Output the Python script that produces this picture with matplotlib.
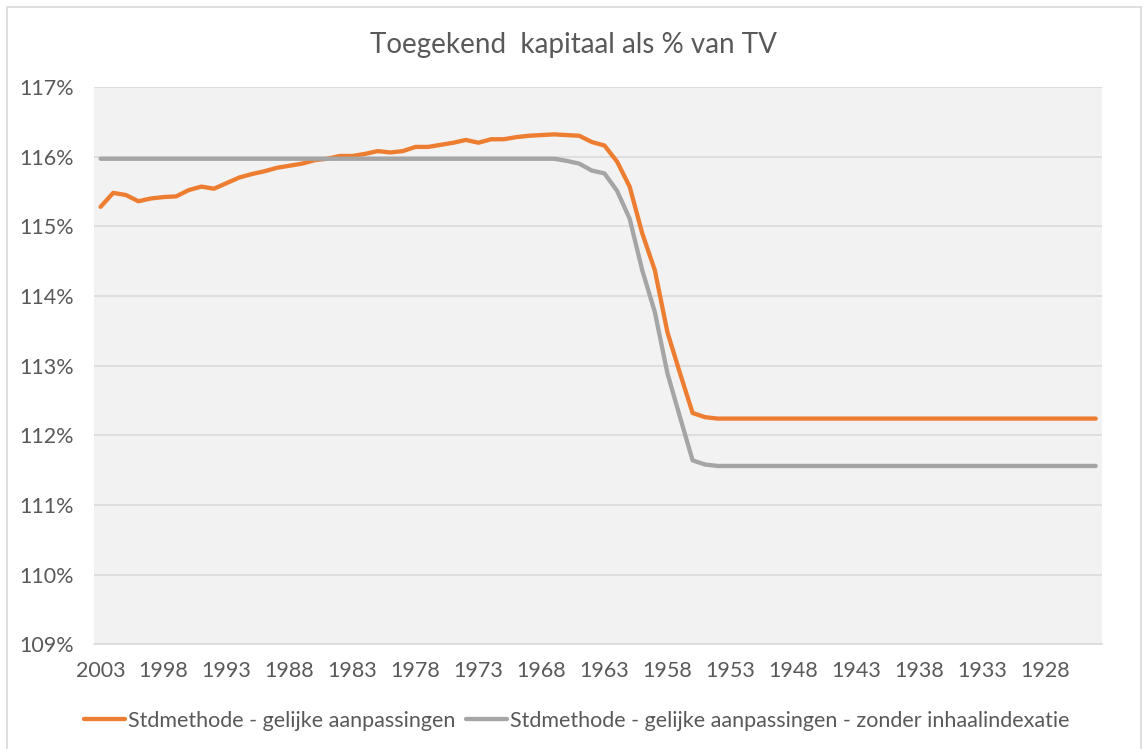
import matplotlib.pyplot as plt
from matplotlib.patches import Rectangle
from matplotlib.ticker import FuncFormatter

# years run backwards, 2003 down to 1924
years = list(range(2003, 1923, -1))

gelijk = [115.28, 115.48, 115.45, 115.36, 115.40, 115.42, 115.43, 115.52, 115.57, 115.54,
          115.62, 115.70, 115.75, 115.79, 115.84, 115.87, 115.90, 115.95, 115.97, 116.01,
          116.01, 116.04, 116.08, 116.06, 116.08, 116.14, 116.14, 116.17, 116.20, 116.24,
          116.20, 116.25, 116.25, 116.28, 116.30, 116.31, 116.32, 116.31, 116.30, 116.21,
          116.16, 115.93, 115.57, 114.90, 114.37, 113.48, 112.89, 112.32, 112.26, 112.24,
          112.24, 112.24, 112.24, 112.24, 112.24, 112.24, 112.24, 112.24, 112.24, 112.24,
          112.24, 112.24, 112.24, 112.24, 112.24, 112.24, 112.24, 112.24, 112.24, 112.24,
          112.24, 112.24, 112.24, 112.24, 112.24, 112.24, 112.24, 112.24, 112.24, 112.24]

zonder_inhaal = [115.97, 115.97, 115.97, 115.97, 115.97, 115.97, 115.97, 115.97, 115.97, 115.97,
                 115.97, 115.97, 115.97, 115.97, 115.97, 115.97, 115.97, 115.97, 115.97, 115.97,
                 115.97, 115.97, 115.97, 115.97, 115.97, 115.97, 115.97, 115.97, 115.97, 115.97,
                 115.97, 115.97, 115.97, 115.97, 115.97, 115.97, 115.97, 115.94, 115.90, 115.80,
                 115.76, 115.51, 115.11, 114.37, 113.77, 112.89, 112.26, 111.64, 111.58, 111.56,
                 111.56, 111.56, 111.56, 111.56, 111.56, 111.56, 111.56, 111.56, 111.56, 111.56,
                 111.56, 111.56, 111.56, 111.56, 111.56, 111.56, 111.56, 111.56, 111.56, 111.56,
                 111.56, 111.56, 111.56, 111.56, 111.56, 111.56, 111.56, 111.56, 111.56, 111.56]

tick_years = list(range(2003, 1927, -5))

label1 = "Stdmethode - gelijke aanpassingen"
label2 = "Stdmethode - gelijke aanpassingen - zonder inhaalindexatie"
title = "Toegekend  kapitaal als % van TV"

txt = "#595959"
grid = "#D9D9D9"

plt.rcParams['font.family'] = ['Lato', 'DejaVu Sans']

fig = plt.figure(figsize=(11.47, 7.49), dpi=100)
fig.patches.append(Rectangle((7 / 1147, -0.05), (1141 - 7) / 1147, 1.05 - 7 / 749,
                             transform=fig.transFigure, fill=False,
                             edgecolor=grid, linewidth=1.2))

ax = fig.add_axes([94.3 / 1147, 1 - 644.3 / 749, (1102 - 94.3) / 1147, (644.3 - 87) / 749])
ax.set_facecolor("#F2F2F2")

ax.plot(years, gelijk, color="#ED7D31", lw=3.1, solid_capstyle="round",
        solid_joinstyle="round", label=label1, zorder=3)
ax.plot(years, zonder_inhaal, color="#A5A5A5", lw=3.1, solid_capstyle="round",
        solid_joinstyle="round", label=label2, zorder=3)

ax.set_xlim(2003.5, 1923.5)
ax.set_ylim(109, 117)
ax.set_yticks(range(109, 118))
ax.yaxis.set_major_formatter(FuncFormatter(lambda v, p: "%d%%" % v))
ax.set_xticks(tick_years)
ax.set_xticklabels([str(y) for y in tick_years])

ax.grid(axis="y", color=grid, lw=1.1, zorder=0)
ax.set_axisbelow(True)
for s in ["top", "right", "left"]:
    ax.spines[s].set_visible(False)
ax.spines["bottom"].set_color(grid)
ax.spines["bottom"].set_linewidth(1.1)

ax.tick_params(axis="both", length=0, labelsize=15.5, labelcolor=txt)
ax.tick_params(axis="y", pad=15)
ax.tick_params(axis="x", pad=12)

fig.text(0.5, 1 - 45 / 749, title, ha="center", va="center", fontsize=20, color=txt)

fig.legend(loc="center", bbox_to_anchor=(577 / 1147, 1 - 721 / 749), ncol=2,
           frameon=False, fontsize=15.5, labelcolor=txt, handlelength=1.9,
           handletextpad=0.15, columnspacing=0.5, borderpad=0)

fig.savefig("out.png", dpi=100)
